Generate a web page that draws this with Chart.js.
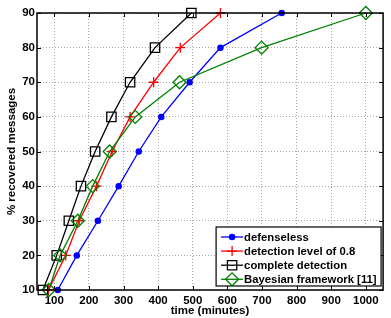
<!DOCTYPE html>
<html>
<head>
<meta charset="utf-8">
<script src="https://cdn.jsdelivr.net/npm/chart.js@4/dist/chart.umd.min.js"></script>
<style>
html,body{margin:0;padding:0;background:#fff;}
canvas{display:block;}
</style>
</head>
<body>
<canvas id="c" width="391" height="318"></canvas>
<script>
// ---- data ----
const yLevels = [10, 20, 30, 40, 50, 60, 70, 80, 90];
const tDefenseless = [110, 165, 226, 286, 344, 409, 491, 580, 757];
const tDetection08 = [83, 133, 172, 222, 267, 319, 387, 464, 580];
const tComplete = [67, 107, 142, 177, 218, 265, 319, 391, 496];
const tBayesian = [84, 117, 168, 211, 260, 334, 462, 699, 1000];
const xTicks = [100, 200, 300, 400, 500, 600, 700, 800, 900, 1000];
const yTicks = [10, 20, 30, 40, 50, 60, 70, 80, 90];
const seriesNames = ['defenseless', 'detection level of 0.8', 'complete detection', 'Bayesian framework [11]'];
const xTitle = 'time (minutes)';
const yTitle = '% recovered messages';

const FONT = "'Liberation Sans', Arial, Helvetica, sans-serif";
const toPts = (xs) => xs.map((x, i) => ({x: x, y: yLevels[i]}));

const styles = [
  {color: '#0000ff', pointStyle: 'circle', radius: 2.6, fill: '#0000ff'},
  {color: '#ff0000', pointStyle: 'cross', radius: 5, fill: 'transparent'},
  {color: '#000000', pointStyle: 'rect', radius: 6.6, fill: 'transparent'},
  {color: '#008000', pointStyle: 'rectRot', radius: 6.5, fill: 'transparent'}
];
const seriesData = [tDefenseless, tDetection08, tComplete, tBayesian];

const datasets = seriesData.map((d, i) => ({
  label: seriesNames[i],
  data: toPts(d),
  borderColor: styles[i].color,
  backgroundColor: styles[i].fill,
  borderWidth: 1.3,
  pointStyle: styles[i].pointStyle,
  pointRadius: styles[i].radius,
  pointBorderWidth: 1.3,
  pointBackgroundColor: styles[i].fill,
  pointBorderColor: styles[i].color,
  tension: 0,
  fill: false,
  clip: false,
  order: 3 - i
}));

const boxPlugin = {
  id: 'box',
  afterDraw(chart) {
    const {ctx, chartArea: a, scales} = chart;
    ctx.save();
    ctx.strokeStyle = '#000';
    ctx.lineWidth = 1;
    ctx.beginPath();
    const tl = 4;
    xTicks.forEach(v => {
      const px = Math.round(scales.x.getPixelForValue(v)) + 0.5;
      ctx.moveTo(px, a.bottom); ctx.lineTo(px, a.bottom - tl);
      ctx.moveTo(px, a.top); ctx.lineTo(px, a.top + tl);
    });
    yTicks.forEach(v => {
      const py = Math.round(scales.y.getPixelForValue(v)) + 0.5;
      ctx.moveTo(a.left, py); ctx.lineTo(a.left + tl, py);
      ctx.moveTo(a.right, py); ctx.lineTo(a.right - tl, py);
    });
    ctx.stroke();
    ctx.lineWidth = 1.5;
    ctx.strokeRect(a.left, a.top, a.right - a.left, a.bottom - a.top);
    ctx.restore();
  }
};

const legendPlugin = {
  id: 'customLegend',
  afterDraw(chart) {
    const {ctx, chartArea: a} = chart;
    const bx1 = a.right - 2, by1 = a.bottom - 4;
    const bx0 = bx1 - 165, by0 = by1 - 59;
    ctx.save();
    ctx.fillStyle = '#fff';
    ctx.fillRect(bx0, by0, bx1 - bx0, by1 - by0);
    ctx.strokeStyle = '#000';
    ctx.lineWidth = 1.2;
    ctx.strokeRect(bx0, by0, bx1 - bx0, by1 - by0);
    ctx.font = "bold 11.3px " + FONT;
    ctx.textBaseline = 'alphabetic';
    ctx.textAlign = 'left';
    seriesNames.forEach((name, i) => {
      const cy = by0 + 10 + i * 14.1;
      const lx0 = bx0 + 5, lx1 = bx0 + 27, mx = bx0 + 16;
      ctx.strokeStyle = styles[i].color;
      ctx.lineWidth = 1.3;
      ctx.beginPath();
      ctx.moveTo(lx0, cy); ctx.lineTo(lx1, cy);
      ctx.stroke();
      ctx.fillStyle = styles[i].fill;
      Chart.helpers.drawPoint(ctx, {
        pointStyle: styles[i].pointStyle,
        radius: styles[i].radius,
        rotation: 0,
        borderWidth: 1.3
      }, mx, cy);
      if (styles[i].fill !== 'transparent') { ctx.fill(); }
      ctx.fillStyle = '#000';
      ctx.fillText(name, bx0 + 28, cy + 4);
    });
    ctx.restore();
  }
};

const tickFont = {family: FONT, size: 11.5, weight: 'bold'};

new Chart(document.getElementById('c'), {
  type: 'line',
  data: {datasets: datasets},
  options: {
    responsive: false,
    animation: false,
    devicePixelRatio: 1,
    layout: {padding: {top: 13, right: 1, left: 0, bottom: 0}},
    plugins: {legend: {display: false}, tooltip: {enabled: false}},
    scales: {
      x: {
        type: 'linear', min: 50, max: 1050,
        afterBuildTicks: s => { s.ticks = xTicks.map(v => ({value: v})); },
        afterFit: s => { s.height = 28; },
        grid: {color: '#a8a8a8', lineWidth: 1, drawTicks: false},
        border: {display: false, dash: [1, 2]},
        ticks: {padding: 4, color: '#000', font: tickFont, maxRotation: 0, autoSkip: false,
                callback: v => String(v)},
        title: {display: true, text: xTitle, color: '#000', font: tickFont, padding: {top: 0, bottom: 0}}
      },
      y: {
        type: 'linear', min: 10, max: 90,
        afterBuildTicks: s => { s.ticks = yTicks.map(v => ({value: v})); },
        afterFit: s => { s.width = 37; },
        grid: {color: '#a8a8a8', lineWidth: 1, drawTicks: false},
        border: {display: false, dash: [1, 2]},
        ticks: {padding: 2, color: '#000', font: tickFont, autoSkip: false,
                callback: v => String(v)},
        title: {display: true, text: yTitle, color: '#000', font: tickFont, padding: {top: 5, bottom: 0}}
      }
    }
  },
  plugins: [boxPlugin, legendPlugin]
});
</script>
</body>
</html>
